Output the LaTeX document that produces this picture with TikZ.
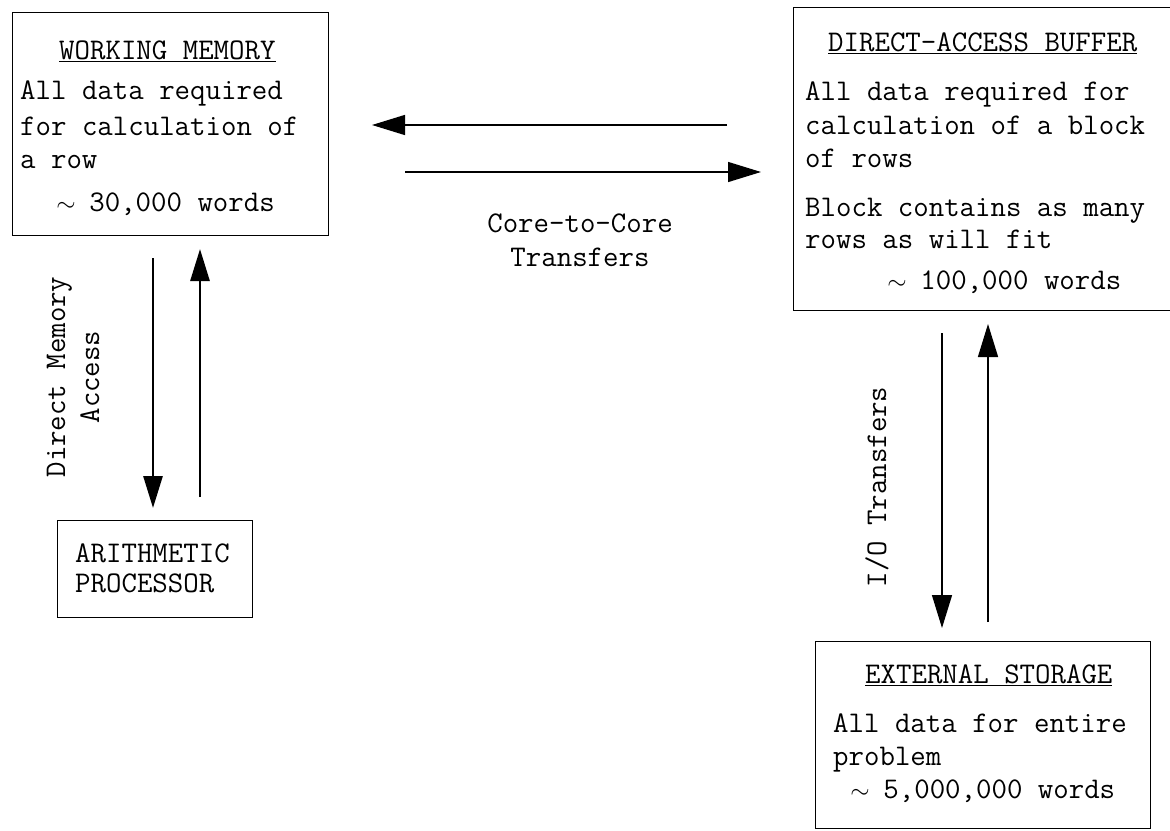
\documentclass[tikz,border=0pt]{standalone}
\usepackage{fontspec}
\usetikzlibrary{arrows.meta}
\newcommand{\tld}{\makebox[0.525em][c]{$\sim$}}
\tikzset{
  box/.style={draw, line width=1.3pt, inner sep=0pt, anchor=north west},
  txt/.style={anchor=base west, inner sep=0pt, font=\ttfamily\fontsize{30}{34}\selectfont},
  lbl/.style={inner sep=0pt, align=center, font=\ttfamily\fontsize{30}{34}\selectfont},
  thinarr/.style={line width=1.4pt, -{Triangle[length=33pt,width=20pt]}},
  thickarr/.style={line width=2.8pt, -{Triangle[length=32pt,width=19pt]}}
}
\begin{document}
\begin{tikzpicture}[x=1pt,y=1pt]
\clip (0,0) rectangle (1170,-830);
\useasboundingbox (0,0) rectangle (1170,-830);
\fill[white] (0,0) rectangle (1170,-830);

% boxes
\node[box, minimum width=316, minimum height=223] (wm) at (12,-12) {};
\node[box, minimum width=390, minimum height=303] (dab) at (793,-7) {};
\node[box, minimum width=195, minimum height=97] (ap) at (57,-520) {};
\node[box, minimum width=335, minimum height=187] (es) at (815,-641) {};

% working memory text
\node[txt] (wmh) at (59,-59) {\underline{WORKING MEMORY}};
\node[txt] (wm1) at (20,-99) {All data required};
\node[txt] (wm2) at (20,-135) {for calculation of};
\node[txt] (wm3) at (20,-168) {a row};
\node[txt] (wm4) at (58,-211) {\tld{} 30,000 words};

% direct-access buffer text
\node[txt] (dabh) at (828,-51) {\underline{DIRECT-ACCESS BUFFER}};
\node[txt] (dab1) at (805,-100) {All data required for};
\node[txt] (dab2) at (805,-134) {calculation of a block};
\node[txt] (dab3) at (805,-167) {of rows};
\node[txt] (dab4) at (805,-216) {Block contains as many};
\node[txt] (dab5) at (805,-248) {rows as will fit};
\node[txt] (dab6) at (889,-289) {\tld{} 100,000 words};

% arithmetic processor text
\node[txt] (ap1) at (75,-562) {ARITHMETIC};
\node[txt] (ap2) at (75,-592) {PROCESSOR};

% external storage text
\node[txt] (esh) at (865,-683) {\underline{EXTERNAL STORAGE}};
\node[txt] (es1) at (833,-732) {All data for entire};
\node[txt] (es2) at (833,-765) {problem};
\node[txt] (es3) at (852,-798) {\tld{} 5,000,000 words};

% connector labels
\node[lbl, rotate=90] (dma) at (73,-377) {Direct Memory\\Access};
\node[lbl, rotate=90] (io) at (877,-487) {I/O Transfers};
\node[lbl] (cc) at (580,-240) {Core-to-Core\\Transfers};

% arrow end coordinates
\coordinate (wmA) at (153,-258);
\coordinate (apA) at (153,-508);
\coordinate (apB) at (200,-497);
\coordinate (wmB) at (200,-249);
\coordinate (dabA) at (727,-125);
\coordinate (wmC) at (372,-125);
\coordinate (wmD) at (405,-172);
\coordinate (dabB) at (761,-172);
\coordinate (dabC) at (942,-333);
\coordinate (esA) at (942,-628);
\coordinate (esB) at (988,-622);
\coordinate (dabD) at (988,-324);

\draw[thickarr] (wmA) -- (apA);
\draw[thickarr] (apB) -- (wmB);
\draw[thinarr] (dabA) -- (wmC);
\draw[thinarr] (wmD) -- (dabB);
\draw[thinarr] (dabC) -- (esA);
\draw[thinarr] (esB) -- (dabD);
\end{tikzpicture}
\end{document}
